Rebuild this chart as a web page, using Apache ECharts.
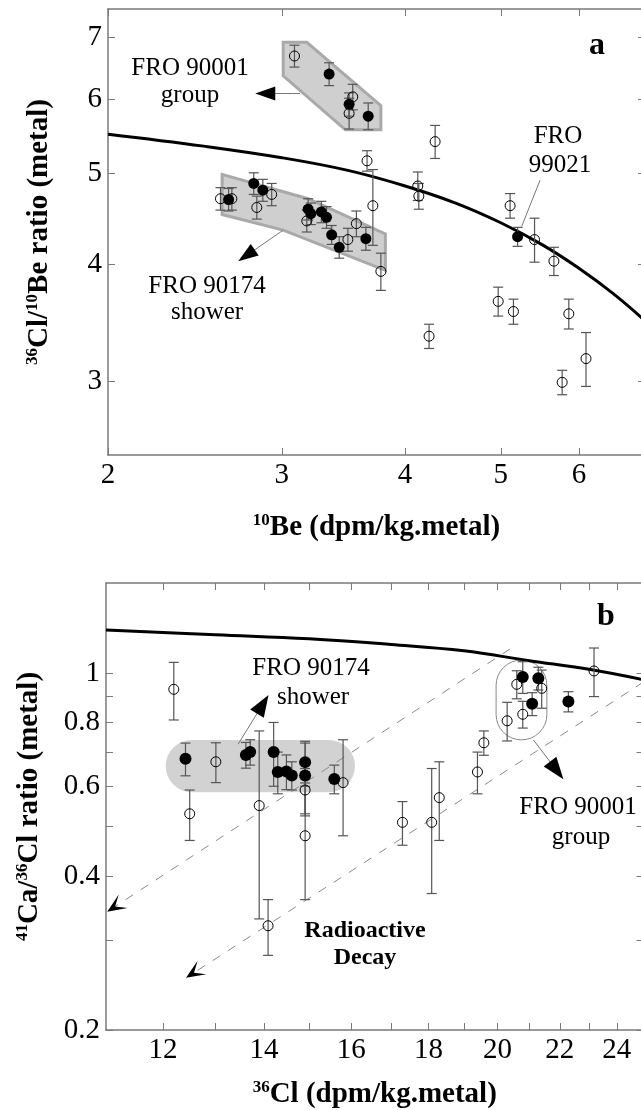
<!DOCTYPE html>
<html>
<head>
<meta charset="utf-8">
<script src="https://cdn.jsdelivr.net/npm/echarts@6.0.0/dist/echarts.min.js"></script>
<style>
  html, body { margin: 0; padding: 0; background: #fff; }
  #chart { width: 641px; height: 1110px; }
</style>
</head>
<body>
<div id="chart"></div>
<script>
// ---- panel a : 36Cl/10Be vs 10Be, points are [10Be, ratio, error] ----
const a90001Open = [[3.09, 6.68, 0.18], [3.54, 6.04, 0.19], [3.51, 5.80, 0.22]];
const a90001Filled = [[3.35, 6.39, 0.18], [3.51, 5.93, 0.17], [3.67, 5.76, 0.19]];
const aShowerOpen = [[2.60, 4.70, 0.13], [2.67, 4.70, 0.13], [2.83, 4.60, 0.13], [2.93, 4.75, 0.13],
    [3.18, 4.45, 0.12], [3.50, 4.25, 0.12], [3.57, 4.42, 0.14], [3.78, 3.93, 0.18]];
const aShowerFilled = [[2.65, 4.69, 0.13], [2.81, 4.88, 0.13], [2.87, 4.80, 0.13], [3.19, 4.58, 0.12],
    [3.21, 4.53, 0.12], [3.29, 4.55, 0.12], [3.33, 4.49, 0.12], [3.37, 4.30, 0.10], [3.43, 4.17, 0.11],
    [3.65, 4.26, 0.12]];
const aOtherOpen = [[4.29, 5.41, 0.22], [3.66, 5.16, 0.13], [3.71, 4.62, 0.43], [4.12, 4.85, 0.17],
    [4.13, 4.73, 0.15], [5.11, 4.62, 0.14], [5.41, 4.25, 0.23], [5.66, 4.03, 0.14], [4.97, 3.65, 0.13],
    [5.15, 3.56, 0.11], [5.86, 3.54, 0.13], [4.23, 3.35, 0.10], [5.77, 2.99, 0.09], [6.10, 3.17, 0.21]];
const a99021 = [[5.20, 4.28, 0.10]];
const aCurveX = [2, 2.5, 3, 3.5, 4, 4.5, 5, 5.5, 6, 6.5, 7];
const aCurveY = [5.51, 5.35, 5.20, 5.04, 4.85, 4.65, 4.43, 4.20, 3.96, 3.72, 3.48];
const aXTicks = [2, 3, 4, 5, 6, 7];
const aXLabels = [2, 3, 4, 5, 6];
const aYTicks = [3, 4, 5, 6, 7];

// ---- panel b : 41Ca/36Cl vs 36Cl ----
const bShowerFilled = [[12.42, 0.679, 0.05], [13.62, 0.691, 0.04], [13.71, 0.700, 0.04], [14.21, 0.700, 0.10],
    [14.30, 0.640, 0.06], [14.49, 0.641, 0.05], [14.61, 0.630, 0.04], [14.91, 0.669, 0.06],
    [14.91, 0.630, 0.105], [15.59, 0.620, 0.04]];
const b90001Filled = [[20.79, 0.982, 0.07], [21.29, 0.976, 0.05], [21.09, 0.870, 0.045], [22.29, 0.879, 0.04]];
const bOpen = [[12.20, 0.929, 0.12], [12.50, 0.530, 0.06], [13.01, 0.670, 0.06], [13.90, 0.550, 0.22],
    [14.91, 0.590, 0.06], [14.91, 0.480, 0.12], [15.80, 0.610, 0.13], [14.09, 0.320, 0.04],
    [17.30, 0.510, 0.05], [18.09, 0.510, 0.14], [18.30, 0.570, 0.10], [19.40, 0.640, 0.06],
    [19.59, 0.730, 0.04], [20.30, 0.806, 0.07], [20.79, 0.830, 0.05], [20.60, 0.950, 0.06],
    [21.40, 0.933, 0.08], [23.18, 1.009, 0.11]];
const bCurveX = [11, 13, 15, 17, 19, 21, 23, 25];
const bCurveY = [1.214, 1.188, 1.167, 1.137, 1.105, 1.057, 1.017, 0.970];
const bDecay = [[[11.02, 0.341], [20.39, 1.114]], [[12.43, 0.253], [25, 0.96]]];
const bXTicks = [12, 13, 14, 15, 16, 17, 18, 19, 20, 21, 22, 23, 24];
const bXLabels = [12, 14, 16, 18, 20, 22, 24];
const bYTicks = [0.2, 0.3, 0.4, 0.5, 0.6, 0.7, 0.8, 0.9, 1];
const bYLabels = [0.2, 0.4, 0.6, 0.8, 1];

// annotation shapes, in data units
const aGroupPolys = [
    [[3.01, 6.91], [3.18, 6.91], [3.78, 5.91], [3.78, 5.57], [3.48, 5.57], [3.01, 6.36]],
    [[2.61, 4.99], [3.19, 4.70], [3.82, 4.31], [3.82, 3.94], [3.01, 4.35], [2.61, 4.52]]
];
const aArrows = [[3.13, 6.09, 2.82, 6.09, 1], [3.01, 4.35, 2.71, 4.03, 1], [5.48, 4.92, 5.25, 4.39, 0]];
const bBand = [12.05, 0.5843, 16.09, 0.7395];
const bLoop = [19.96, 0.7395, 21.57, 1.060];
const bArrows = [[13.46, 0.7253, 14.10, 0.9057, 1], [21.13, 0.7395, 22.12, 0.6195, 1]];

const FONT = 'Liberation Serif';
const chart = echarts.init(document.getElementById('chart'));

const pairs = (xs, ys) => xs.map((x, i) => [x, ys[i]]);
const withBars = list => list.map(p => [p[0], p[1], p[1] - p[2], p[1] + p[2]]);

const richName = {
    sup: { fontSize: 17, fontWeight: 'bold', fontFamily: FONT, lineHeight: 18, verticalAlign: 'top', color: '#000' },
    t: { fontSize: 29, fontWeight: 'bold', fontFamily: FONT, lineHeight: 32, verticalAlign: 'middle', color: '#000' }
};

function axis(grid, pos, min, max, ticks, labels, name, gap) {
    const main = labels !== null;
    return {
        type: 'log', gridIndex: grid, position: pos, min: min, max: max,
        axisLine: { show: true, lineStyle: { color: '#7a7a7a', width: 1.5 } },
        axisTick: { show: true, inside: true, length: 7, customValues: ticks,
            lineStyle: { color: '#7a7a7a', width: 1 } },
        axisLabel: main ? {
            show: true, customValues: labels, fontFamily: FONT, fontSize: 29, color: '#000', margin: 6,
            formatter: v => String(+v.toFixed(2))
        } : { show: false },
        splitLine: { show: false },
        name: main ? name : '', nameLocation: 'middle', nameGap: gap,
        nameTextStyle: { rich: richName }
    };
}

function errorBars(params, api) {
    const x = api.value(0);
    const p1 = api.coord([x, api.value(2)]);
    const p2 = api.coord([x, api.value(3)]);
    const w = 5, st = { stroke: '#555', lineWidth: 1.2 };
    return { type: 'group', children: [
        { type: 'line', shape: { x1: p1[0], y1: p1[1], x2: p2[0], y2: p2[1] }, style: st },
        { type: 'line', shape: { x1: p1[0] - w, y1: p1[1], x2: p1[0] + w, y2: p1[1] }, style: st },
        { type: 'line', shape: { x1: p2[0] - w, y1: p2[1], x2: p2[0] + w, y2: p2[1] }, style: st }
    ] };
}

function arrowShape(p1, p2, head, len, wid) {
    const dx = p2[0] - p1[0], dy = p2[1] - p1[1];
    const d = Math.sqrt(dx * dx + dy * dy);
    const ux = dx / d, uy = dy / d, nx = -uy, ny = ux;
    const children = [{ type: 'line',
        shape: { x1: p1[0], y1: p1[1], x2: p2[0] - (head ? ux * len * 0.8 : 0), y2: p2[1] - (head ? uy * len * 0.8 : 0) },
        style: { stroke: '#777', lineWidth: 1 } }];
    if (head) {
        children.push({ type: 'polygon', shape: { points: [
            [p2[0], p2[1]],
            [p2[0] - ux * len + nx * wid / 2, p2[1] - uy * len + ny * wid / 2],
            [p2[0] - ux * len - nx * wid / 2, p2[1] - uy * len - ny * wid / 2]
        ] }, style: { fill: '#000' } });
    }
    return children;
}

const scatter = (data, xi, yi, filled, size) => ({
    type: 'scatter', xAxisIndex: xi, yAxisIndex: yi, data: data.map(p => [p[0], p[1]]),
    symbol: 'circle', symbolSize: size,
    itemStyle: filled ? { color: '#000', opacity: 1 }
        : { color: 'rgba(0,0,0,0)', borderColor: '#000', borderWidth: 1, opacity: 1 },
    z: 5
});
const bars = (data, xi, yi) => ({
    type: 'custom', xAxisIndex: xi, yAxisIndex: yi, data: withBars(data),
    encode: { x: 0, y: 1 }, renderItem: errorBars, z: 4
});

const option = {
    animation: false,
    backgroundColor: '#fff',
    grid: [
        { left: 108, right: -4, top: 9, height: 446, outerBoundsMode: 'none', containLabel: false },
        { left: 106, right: -2.5, top: 583, height: 447, outerBoundsMode: 'none', containLabel: false }
    ],
    xAxis: [
        axis(0, 'bottom', 2, 7, aXTicks, aXLabels, '{sup|10}{t|Be (dpm/kg.metal)}', 57),
        axis(0, 'top', 2, 7, aXTicks, null),
        axis(1, 'bottom', 11, 25, bXTicks, bXLabels, '{sup|36}{t|Cl (dpm/kg.metal)}', 49),
        axis(1, 'top', 11, 25, bXTicks, null)
    ],
    yAxis: [
        axis(0, 'left', 2.5, 7.5, aYTicks, aYTicks, '{sup|36}{t|Cl/}{sup|10}{t|Be ratio (metal)}', 52),
        axis(0, 'right', 2.5, 7.5, aYTicks, null),
        axis(1, 'left', 0.2, 1.5, bYTicks, bYLabels, '{sup|41}{t|Ca/}{sup|36}{t|Cl ratio (metal)}', 60),
        axis(1, 'right', 0.2, 1.5, bYTicks, null)
    ],
    graphic: [
        ['FRO 90001', 190, 68], ['group', 190, 95], ['FRO 90174', 207, 286], ['shower', 207, 312],
        ['FRO', 558, 136], ['99021', 560, 165],
        ['FRO 90174', 311, 668], ['shower', 313, 697], ['FRO 90001', 578, 807], ['group', 581, 837]
    ].map(t => ({
        type: 'text', x: t[1], y: t[2], z: 10,
        style: { text: t[0], fontFamily: FONT, fontSize: 25, fill: '#000', align: 'center', verticalAlign: 'middle' }
    })).concat([
        ['a', 597, 46, 32], ['b', 606, 617, 32], ['Radioactive', 365, 931, 24], ['Decay', 365, 958, 24]
    ].map(t => ({
        type: 'text', x: t[1], y: t[2], z: 10,
        style: { text: t[0], fontFamily: FONT, fontWeight: 'bold', fontSize: t[3], fill: '#000',
            align: 'center', verticalAlign: 'middle' }
    }))),
    series: [
        // panel a
        {
            type: 'custom', xAxisIndex: 0, yAxisIndex: 0,
            data: aGroupPolys.map((p, i) => [p[0][0], p[0][1], i]), encode: { x: 0, y: 1 },
            renderItem: (params, api) => ({
                type: 'polygon',
                shape: { points: aGroupPolys[api.value(2)].map(p => api.coord(p)) },
                style: { fill: '#cfcfcf', stroke: '#a9a9a9', lineWidth: 3 }
            }), z: 1
        },
        {
            type: 'line', xAxisIndex: 0, yAxisIndex: 0, data: pairs(aCurveX, aCurveY),
            smooth: 0.4, showSymbol: false, lineStyle: { color: '#000', width: 3 }, z: 3
        },
        {
            type: 'custom', xAxisIndex: 0, yAxisIndex: 0, data: aArrows, encode: { x: 0, y: 1 },
            renderItem: (params, api) => ({ type: 'group', children: arrowShape(
                api.coord([api.value(0), api.value(1)]), api.coord([api.value(2), api.value(3)]),
                api.value(4), 20, 14) }), z: 3
        },
        bars(a90001Open.concat(a90001Filled, aShowerOpen, aShowerFilled, aOtherOpen, a99021), 0, 0),
        scatter(a90001Open.concat(aShowerOpen, aOtherOpen), 0, 0, false, 10),
        scatter(a90001Filled.concat(aShowerFilled, a99021), 0, 0, true, 11),

        // panel b
        {
            type: 'custom', xAxisIndex: 2, yAxisIndex: 2,
            data: [bBand.concat(1), bLoop.concat(0)], encode: { x: 0, y: 1 },
            renderItem: (params, api) => {
                const p1 = api.coord([api.value(0), api.value(3)]);
                const p2 = api.coord([api.value(2), api.value(1)]);
                const w = p2[0] - p1[0], h = p2[1] - p1[1];
                const filled = api.value(4) === 1;
                return {
                    type: 'rect', shape: { x: p1[0], y: p1[1], width: w, height: h, r: Math.min(w, h) / 2 },
                    style: filled ? { fill: '#d2d2d2' } : { fill: 'none', stroke: '#888', lineWidth: 1 }
                };
            }, z: 1
        },
        {
            type: 'line', xAxisIndex: 2, yAxisIndex: 2, data: pairs(bCurveX, bCurveY),
            smooth: 0.4, showSymbol: false, lineStyle: { color: '#000', width: 3 }, z: 3
        },
        {
            type: 'custom', xAxisIndex: 2, yAxisIndex: 2,
            data: bDecay.map(l => [l[0][0], l[0][1], l[1][0], l[1][1]]), encode: { x: 0, y: 1 },
            renderItem: (params, api) => {
                const tip = api.coord([api.value(0), api.value(1)]);
                const end = api.coord([api.value(2), api.value(3)]);
                const dx = tip[0] - end[0], dy = tip[1] - end[1];
                const d = Math.sqrt(dx * dx + dy * dy);
                const ux = dx / d, uy = dy / d, nx = -uy, ny = ux, L = 19, W = 8;
                return { type: 'group', children: [
                    { type: 'line', shape: { x1: end[0], y1: end[1], x2: tip[0] - ux * 6, y2: tip[1] - uy * 6 },
                        style: { stroke: '#8a8a8a', lineWidth: 1, lineDash: [9, 9] } },
                    { type: 'polygon', shape: { points: [
                        tip,
                        [tip[0] - ux * L + nx * W, tip[1] - uy * L + ny * W],
                        [tip[0] - ux * L * 0.5, tip[1] - uy * L * 0.5],
                        [tip[0] - ux * L - nx * W, tip[1] - uy * L - ny * W]
                    ] }, style: { fill: '#000' } }
                ] };
            }, z: 2
        },
        {
            type: 'custom', xAxisIndex: 2, yAxisIndex: 2, data: bArrows, encode: { x: 0, y: 1 },
            renderItem: (params, api) => ({ type: 'group', children: arrowShape(
                api.coord([api.value(0), api.value(1)]), api.coord([api.value(2), api.value(3)]),
                api.value(4), 22, 16) }), z: 3
        },
        bars(bOpen.concat(bShowerFilled, b90001Filled), 2, 2),
        scatter(bOpen, 2, 2, false, 10),
        scatter(bShowerFilled.concat(b90001Filled), 2, 2, true, 12)
    ]
};

chart.setOption(option);
</script>
</body>
</html>
